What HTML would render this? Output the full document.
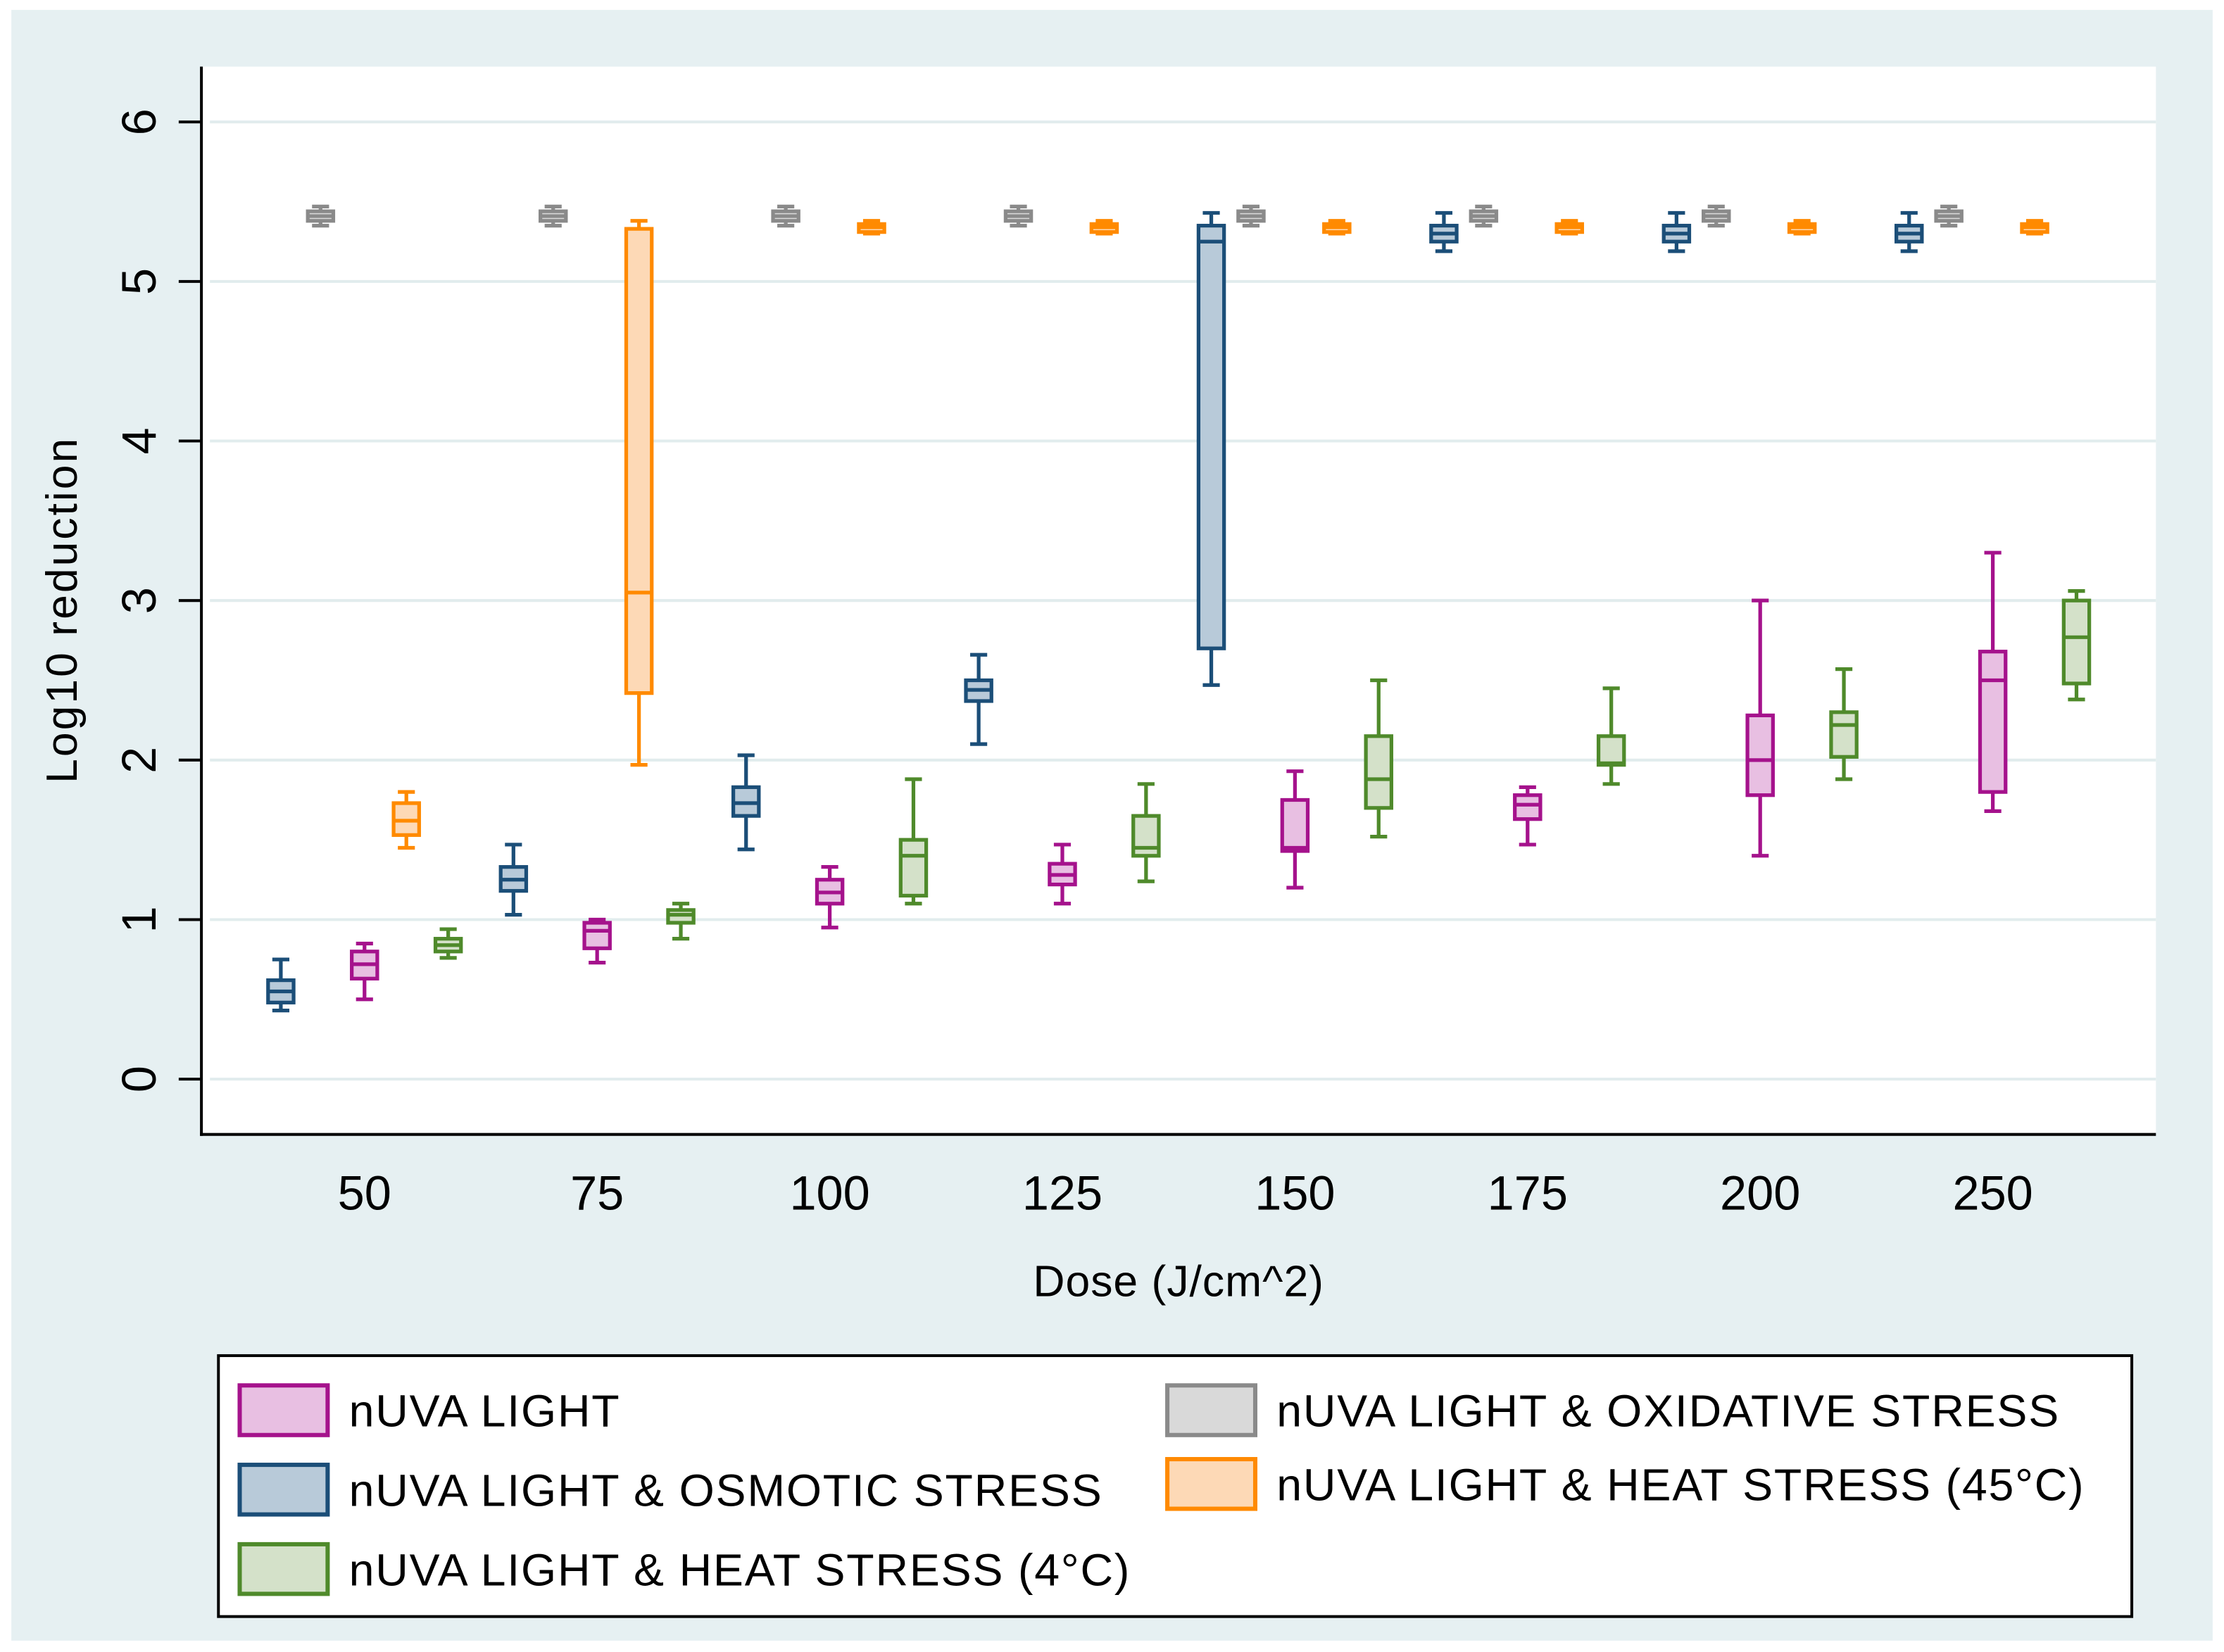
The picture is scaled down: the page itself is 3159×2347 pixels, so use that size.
<!DOCTYPE html>
<html><head><meta charset="utf-8"><style>
html,body{margin:0;padding:0;background:#fff}
svg{display:block}
text{font-family:"Liberation Sans",sans-serif;fill:#000}
</style></head><body>
<svg id="chart" width="3159" height="2347" viewBox="0 0 1568 1165" preserveAspectRatio="none" xmlns="http://www.w3.org/2000/svg">
<rect x="0" y="0" width="1568" height="1165" fill="#ffffff"/>
<rect x="8" y="7" width="1552" height="1150" fill="#e6f0f2"/>
<rect x="143" y="47" width="1377" height="753" fill="#ffffff"/>
<g id="grid"></g>
<g id="boxes"></g>
<line x1="142" y1="47" x2="142" y2="801" stroke="#000" stroke-width="2"/>
<line x1="141" y1="800" x2="1520" y2="800" stroke="#000" stroke-width="2"/>
<g id="yticks"></g>
<g id="xticks"></g>
<text x="54" y="430" font-size="31" letter-spacing="1.5" text-anchor="middle" transform="rotate(-90 54 430)">Log10 reduction</text>
<text x="831" y="914" font-size="31" letter-spacing="0.5" text-anchor="middle">Dose (J/cm^2)</text>
<rect x="154" y="956" width="1349" height="184" fill="#fff" stroke="#000" stroke-width="2"/>
<g id="legend"></g>
</svg>
<script>
const doses = ["50","75","100","125","150","175","200","250"];
const seriesNames = ["nUVA LIGHT & OSMOTIC STRESS","nUVA LIGHT & OXIDATIVE STRESS","nUVA LIGHT","nUVA LIGHT & HEAT STRESS (45°C)","nUVA LIGHT & HEAT STRESS (4°C)"];
const yTicks = [0,1,2,3,4,5,6];
// each entry: [whiskerLow, q1, median, q3, whiskerHigh] per dose
const osmotic = [[0.43,0.48,0.55,0.62,0.75],[1.03,1.18,1.25,1.33,1.47],[1.44,1.65,1.73,1.83,2.03],[2.1,2.37,2.44,2.5,2.66],[2.47,2.7,5.25,5.35,5.43],[5.19,5.25,5.3,5.35,5.43],[5.19,5.25,5.3,5.35,5.43],[5.19,5.25,5.3,5.35,5.43]];
const oxidative = [[5.35,5.38,5.41,5.44,5.47],[5.35,5.38,5.41,5.44,5.47],[5.35,5.38,5.41,5.44,5.47],[5.35,5.38,5.41,5.44,5.47],[5.35,5.38,5.41,5.44,5.47],[5.35,5.38,5.41,5.44,5.47],[5.35,5.38,5.41,5.44,5.47],[5.35,5.38,5.41,5.44,5.47]];
const light = [[0.5,0.63,0.72,0.8,0.85],[0.73,0.82,0.93,0.98,1.0],[0.95,1.1,1.17,1.25,1.33],[1.1,1.22,1.28,1.35,1.47],[1.2,1.43,1.45,1.75,1.93],[1.47,1.63,1.72,1.78,1.83],[1.4,1.78,2.0,2.28,3.0],[1.68,1.8,2.5,2.68,3.3]];
const heat45 = [[1.45,1.53,1.62,1.73,1.8],[1.97,2.42,3.05,5.33,5.38],[5.3,5.31,5.34,5.36,5.38],[5.3,5.31,5.34,5.36,5.38],[5.3,5.31,5.34,5.36,5.38],[5.3,5.31,5.34,5.36,5.38],[5.3,5.31,5.34,5.36,5.38],[5.3,5.31,5.34,5.36,5.38]];
const heat4 = [[0.76,0.8,0.84,0.88,0.94],[0.88,0.98,1.03,1.06,1.1],[1.1,1.15,1.4,1.5,1.88],[1.24,1.4,1.45,1.65,1.85],[1.52,1.7,1.88,2.15,2.5],[1.85,1.97,1.98,2.15,2.45],[1.88,2.02,2.22,2.3,2.57],[2.38,2.48,2.77,3.0,3.06]];

const NS="http://www.w3.org/2000/svg";
function y(v){return 761-v*112.5;}
function xDose(i){return 257+i*164;}
const offsets=[-59,-31,0,29.5,59];
const strokes=["#1b4e78","#8a8a8a","#a5128c","#ff8a00","#4f8a2b"];
const fills=["#b8cad9","#d9d9d9","#e8bfe2","#fdd9b6","#d4e1c9"];
const allSeries=[osmotic,oxidative,light,heat45,heat4];
const keys=["osmotic","oxidative","light","heat45","heat4"];
function mk(tag,attrs,parent){const e=document.createElementNS(NS,tag);for(const k in attrs)e.setAttribute(k,attrs[k]);parent.appendChild(e);return e;}

const grid=document.getElementById('grid');
const yt=document.getElementById('yticks');
yTicks.forEach(t=>{
  const g=mk('line',{x1:148,x2:1520,y1:y(t),y2:y(t),stroke:'#e1eced','stroke-width':2},grid);
  
  
  const tk=mk('line',{x1:126,x2:142,y1:y(t),y2:y(t),stroke:'#000','stroke-width':2},yt);
  
  
  const tx=mk('text',{x:98,y:y(t),'font-size':34,'text-anchor':'middle','dominant-baseline':'central',transform:'rotate(-90 98 '+y(t)+')'},yt);
  tx.textContent=t;
  
  
});
const xt=document.getElementById('xticks');
doses.forEach((d,i)=>{
  const tx=mk('text',{x:xDose(i),y:853,'font-size':34,'text-anchor':'middle'},xt);
  tx.textContent=d;
  
  
});
const bx=document.getElementById('boxes');
allSeries.forEach((s,si)=>{
  s.forEach((b,i)=>{
    const cx=xDose(i)+offsets[si];
    const g=mk('g',{},bx);
    
    
    const st={stroke:strokes[si],'stroke-width':2.6,fill:'none'};
    mk('line',Object.assign({x1:cx,x2:cx,y1:y(b[0]),y2:y(b[1])},st),g);
    mk('line',Object.assign({x1:cx,x2:cx,y1:y(b[3]),y2:y(b[4])},st),g);
    mk('line',Object.assign({x1:cx-6,x2:cx+6,y1:y(b[0]),y2:y(b[0])},st),g);
    mk('line',Object.assign({x1:cx-6,x2:cx+6,y1:y(b[4]),y2:y(b[4])},st),g);
    mk('rect',{x:cx-9,y:y(b[3]),width:18,height:Math.max(y(b[1])-y(b[3]),1),fill:fills[si],stroke:strokes[si],'stroke-width':2.6},g);
    mk('line',Object.assign({x1:cx-9,x2:cx+9,y1:y(b[2]),y2:y(b[2])},st),g);
  });
});
const lg=document.getElementById('legend');
const lp={0:[168,1032],1:[822,976],2:[168,976],3:[822,1028],4:[168,1088]};
allSeries.forEach((s,si)=>{
  const [lx,ly]=lp[si];
  const g=mk('g',{},lg);
  
  
  mk('rect',{x:lx+1,y:ly+1,width:62,height:35,fill:fills[si],stroke:strokes[si],'stroke-width':3},g);
  const t=mk('text',{x:lx+78,y:ly+30,'font-size':32,'letter-spacing':0.9},g);
  t.textContent=seriesNames[si];
});
</script>
</body></html>
